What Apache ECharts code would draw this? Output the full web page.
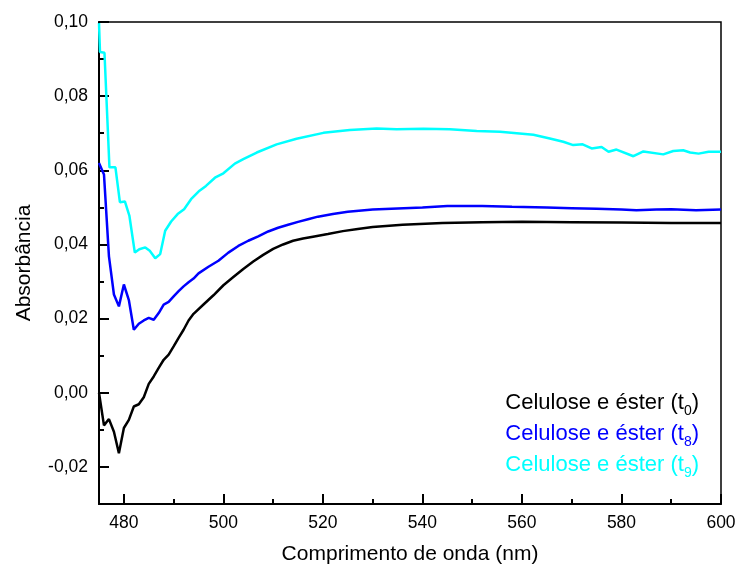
<!DOCTYPE html>
<html lang="pt">
<head>
    <meta charset="UTF-8">
    <title>Absorbância - celulose e éster</title>
    <script src="https://cdn.jsdelivr.net/npm/echarts@6/dist/echarts.min.js"></script>
</head>
<body style="margin:0">

<div id="main" style="width:742px;height:575px"></div>

<script type="text/javascript">
    // dados
    var t0Wave = [475, 476, 477, 478, 479, 480, 481, 482, 483, 484, 485, 486, 487, 488, 489, 490, 491, 492, 493, 494,
        496, 498, 500, 502, 504, 506, 508, 510, 512, 514, 516, 518, 521, 524, 527, 530, 536, 544, 552, 560, 570,
        580, 590, 600];
    var t0Abs = [0.0000, -0.0088, -0.0071, -0.0105, -0.0163, -0.0095, -0.0073, -0.0037, -0.0031, -0.0012, 0.0024,
        0.0044, 0.0067, 0.0089, 0.0103, 0.0125, 0.0148, 0.0170, 0.0195, 0.0213,
        0.0238, 0.0263, 0.0290, 0.0312, 0.0334, 0.0354, 0.0372, 0.0388, 0.0400, 0.0410, 0.0416, 0.0421, 0.0428,
        0.0436, 0.0442, 0.0447, 0.0453, 0.0458, 0.0460, 0.0461, 0.0460, 0.0459, 0.0458, 0.0458];

    var t8Wave = [475, 476, 477, 478, 479, 480, 481, 482, 483, 484, 485, 486, 487, 488, 489, 490, 491, 492, 493, 494,
        495, 497, 499, 501, 503, 505, 507, 509, 511, 513, 515, 517, 519, 522, 525, 530, 535, 540, 545, 552, 558,
        565, 570, 575, 580, 583, 587, 590, 595, 600];
    var t8Abs = [0.0620, 0.0589, 0.0368, 0.0265, 0.0233, 0.0292, 0.0250, 0.0170, 0.0186, 0.0195, 0.0202, 0.0197,
        0.0215, 0.0238, 0.0245, 0.0260, 0.0274, 0.0287, 0.0298, 0.0308,
        0.0322, 0.0340, 0.0356, 0.0378, 0.0396, 0.0410, 0.0422, 0.0435, 0.0445, 0.0453, 0.0461, 0.0468, 0.0475,
        0.0482, 0.0488, 0.0494, 0.0497, 0.0500, 0.0504, 0.0504, 0.0502,
        0.0500, 0.0498, 0.0496, 0.0494, 0.0492, 0.0494, 0.0495, 0.0492, 0.0494];

    var t9Wave = [475, 475.2, 476.1, 477.1, 478.3, 479.2, 480.2, 481.1, 482.2, 483.1, 484.3, 485.2, 486.3, 487.3,
        488.3, 489.5, 490.8, 492.1, 493.5, 495.2, 496.5, 498.3, 500, 502.3, 504, 506.7, 510.7, 514.7, 520.1,
        525.4, 530.8, 534.8, 540.2, 545.5, 550.9, 555.6, 562.3, 565.6, 568.3, 570.3, 572.2, 574, 576, 577.4,
        579, 582.4, 584.4, 588.4, 590.4, 592.4, 593.8, 595.5, 597.5, 600];
    var t9Abs = [0.0997, 0.0919, 0.0917, 0.0608, 0.0608, 0.0514, 0.0516, 0.0478, 0.0378, 0.0387, 0.0392, 0.0383,
        0.0363, 0.0374, 0.0437, 0.0462, 0.0482, 0.0495, 0.0522, 0.0545, 0.0558, 0.0580, 0.0592, 0.0618, 0.0630,
        0.0648, 0.0670, 0.0685, 0.0701, 0.0709, 0.0713, 0.0711, 0.0712, 0.0711, 0.0706, 0.0704, 0.0696, 0.0686,
        0.0677, 0.0668, 0.0670, 0.0659, 0.0663, 0.0650, 0.0656, 0.0638, 0.0651, 0.0643, 0.0652, 0.0654, 0.0648,
        0.0645, 0.0650, 0.0650];

    var xMajor = [480, 500, 520, 540, 560, 580, 600];
    var xMinor = [490, 510, 530, 550, 570, 590];
    var yMajor = [-0.02, 0, 0.02, 0.04, 0.06, 0.08, 0.10];
    var yMinor = [-0.03, -0.01, 0.01, 0.03, 0.05, 0.07, 0.09];

    var names = ['Celulose e éster (t0)', 'Celulose e éster (t8)', 'Celulose e éster (t9)'];
    var colors = ['#000000', '#0000ff', '#00ffff'];
    var subs = ['0', '8', '9'];

    function pairs(xs, ys) {
        return xs.map(function (x, i) { return [x, ys[i]]; });
    }

    var font = 'Liberation Sans, Arial, sans-serif';
    var myChart = echarts.init(document.getElementById('main'));

    var rich = {};
    for (var k = 0; k < 3; k++) {
        rich['n' + k] = {color: colors[k], fontSize: 22, fontFamily: font, lineHeight: 25, verticalAlign: 'top'};
        rich['s' + k] = {color: colors[k], fontSize: 14, fontFamily: font, lineHeight: 16, verticalAlign: 'top', padding: [12, 0, 0, 0]};
    }

    var option = {
        animation: false,
        grid: {
            left: 99, right: 21, top: 22, bottom: 71,
            show: true, borderColor: '#000', borderWidth: 1.5
        },
        legend: {
            orient: 'vertical',
            right: 38,
            top: 387,
            icon: 'none',
            itemWidth: 0,
            itemGap: 5,
            data: names,
            formatter: function (name) {
                var i = names.indexOf(name);
                return '{n' + i + '|Celulose e éster (t}{s' + i + '|' + subs[i] + '}{n' + i + '|)}';
            },
            textStyle: {rich: rich}
        },
        xAxis: [{
            type: 'value',
            min: 475, max: 600,
            name: 'Comprimento de onda (nm)',
            nameLocation: 'middle',
            nameGap: 40,
            nameTextStyle: {fontSize: 21, fontFamily: font, color: '#000'},
            axisLine: {onZero: false, lineStyle: {color: '#000', width: 2}},
            axisTick: {inside: true, length: 10, customValues: xMajor, lineStyle: {color: '#000', width: 2}},
            axisLabel: {customValues: xMajor, fontSize: 17.5, fontFamily: font, color: '#000', margin: 10},
            splitLine: {show: false}
        }, {
            type: 'value',
            min: 475, max: 600,
            position: 'bottom',
            axisLine: {show: false, onZero: false},
            axisTick: {inside: true, length: 5, customValues: xMinor, lineStyle: {color: '#000', width: 2}},
            axisLabel: {show: false},
            splitLine: {show: false}
        }],
        yAxis: [{
            type: 'value',
            min: -0.03, max: 0.10,
            name: 'Absorbância',
            nameLocation: 'middle',
            nameGap: 64,
            nameTextStyle: {fontSize: 21, fontFamily: font, color: '#000'},
            axisLine: {onZero: false, lineStyle: {color: '#000', width: 2}},
            axisTick: {inside: true, length: 10, customValues: yMajor, lineStyle: {color: '#000', width: 2}},
            axisLabel: {
                customValues: yMajor, fontSize: 17.5, fontFamily: font, color: '#000', margin: 11,
                formatter: function (v) { return v.toFixed(2).replace('.', ','); }
            },
            splitLine: {show: false}
        }, {
            type: 'value',
            min: -0.03, max: 0.10,
            position: 'left',
            axisLine: {show: false, onZero: false},
            axisTick: {inside: true, length: 5, customValues: yMinor, lineStyle: {color: '#000', width: 2}},
            axisLabel: {show: false},
            splitLine: {show: false}
        }],
        series: [{
            name: names[0], type: 'line', data: pairs(t0Wave, t0Abs),
            showSymbol: false, lineStyle: {color: colors[0], width: 2.5}, itemStyle: {color: colors[0]}
        }, {
            name: names[1], type: 'line', data: pairs(t8Wave, t8Abs),
            showSymbol: false, lineStyle: {color: colors[1], width: 2.5}, itemStyle: {color: colors[1]}
        }, {
            name: names[2], type: 'line', data: pairs(t9Wave, t9Abs),
            showSymbol: false, lineStyle: {color: colors[2], width: 2.5}, itemStyle: {color: colors[2]}
        }]
    };

    myChart.setOption(option);
</script>
</body>
</html>
